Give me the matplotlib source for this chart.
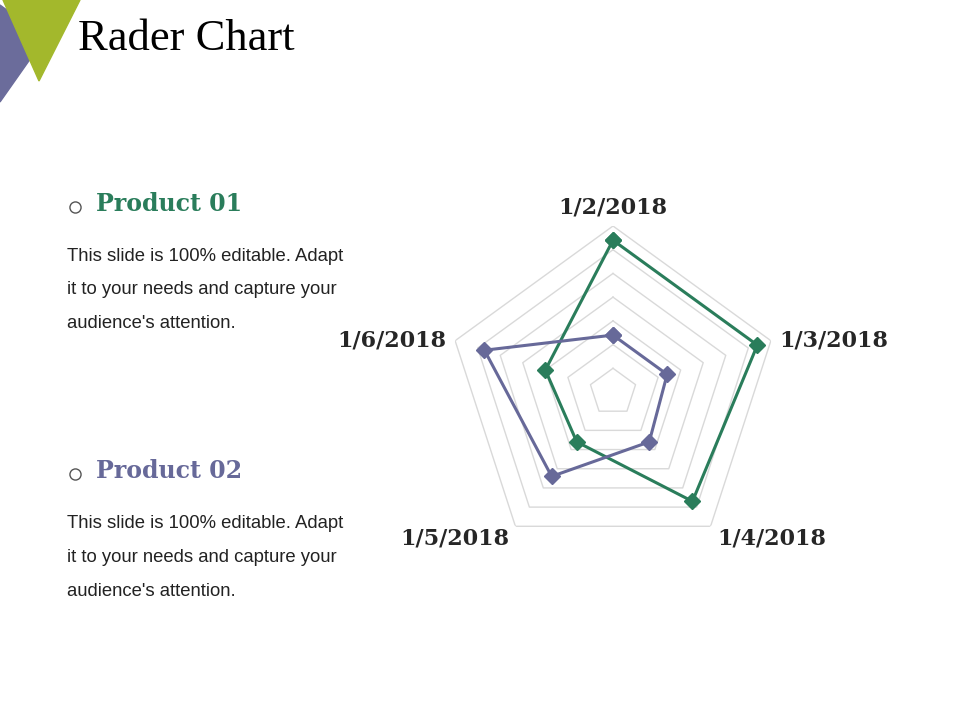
import matplotlib.pyplot as plt
import numpy as np
from matplotlib.patches import Polygon

# data
dates = ["1/2/2018", "1/3/2018", "1/4/2018", "1/5/2018", "1/6/2018"]
product_01 = [32, 32, 28.5, 13, 15]
product_02 = [12, 12, 13, 22, 28.5]
levels = [5, 10, 15, 20, 25, 30, 35]
body_lines = ["This slide is 100% editable. Adapt",
              "it to your needs and capture your",
              "audience's attention."]

GREEN = "#2A7D5B"
PURPLE = "#676999"
W, H = 960, 720

fig = plt.figure(figsize=(9.6, 7.2), dpi=100)
fig.patch.set_facecolor("white")


def fx(x):
    return x / W


def fy(y):
    return 1 - y / H


# corner decoration
purple_tri = Polygon([(fx(0), fy(5)), (fx(45), fy(38)), (fx(0), fy(102))],
                     closed=True, transform=fig.transFigure, color="#6B6C9B")
green_tri = Polygon([(fx(3), fy(0)), (fx(80), fy(0)), (fx(39), fy(81))],
                    closed=True, transform=fig.transFigure, color="#A3B82C")
fig.patches.extend([purple_tri, green_tri])

fig.text(fx(78), fy(39), "Rader Chart", fontsize=32, family="Liberation Serif",
         ha="left", va="center", color="black")

# side texts
for name, col, ytop in [("Product 01", GREEN, 204), ("Product 02", PURPLE, 471)]:
    fig.text(fx(96), fy(ytop), name, fontsize=17, family="DejaVu Serif",
             fontweight="bold", color=col, ha="left", va="center")
    fig.lines.append(plt.Line2D([fx(75)], [fy(ytop + 3)], marker="o", markersize=8,
                                markerfacecolor="white", markeredgecolor="#555555",
                                markeredgewidth=1.0, transform=fig.transFigure))
    for i, line in enumerate(body_lines):
        fig.text(fx(67), fy(ytop + 52 + i * 34), line, fontsize=13.3,
                 family="Liberation Sans", color="#222222", ha="left", va="center")

# radar
cx, cy, R = 613, 392, 166
ax = fig.add_axes([fx(cx - R), fy(cy + R), 2 * R / W, 2 * R / H], polar=True)
ax.set_theta_offset(np.pi / 2)
ax.set_theta_direction(-1)
ax.set_ylim(0, levels[-1])
ax.axis("off")

angles = np.linspace(0, 2 * np.pi, len(dates), endpoint=False)
closed = np.append(angles, angles[0])

for lv in levels:
    ax.plot(closed, [lv] * len(closed), color="#D9D9D9", lw=1, zorder=1)

for vals, col in [(product_01, GREEN), (product_02, PURPLE)]:
    v = np.append(vals, vals[0])
    ax.plot(closed, v, color=col, lw=2.2, marker="D", markersize=8.5, zorder=3,
            clip_on=False)

label_pos = [
    (37.3, "center", "bottom"),
    (36.9, "left", "center"),
    (37.3, "left", "center"),
    (37.3, "right", "center"),
    (37.0, "right", "center"),
]
for ang, lab, (r, ha, va) in zip(angles, dates, label_pos):
    ax.annotate(lab, (ang, r), xytext=(0, -3), textcoords="offset pixels",
                fontsize=16, family="DejaVu Serif", fontweight="bold",
                color="#262626", ha=ha, va=va, annotation_clip=False)

fig.savefig("out.png", dpi=100, facecolor="white")
